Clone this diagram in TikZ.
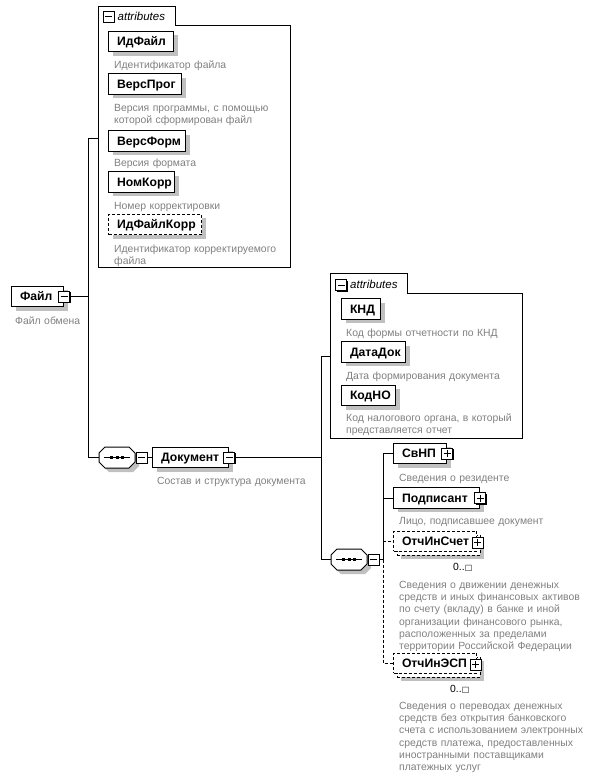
\documentclass[tikz,border=0pt]{standalone}
\usepackage{fontspec}
\setmainfont{Liberation Sans}
\newfontfamily\symf{DejaVu Sans}
\usetikzlibrary{shadows}
\definecolor{desctext}{RGB}{128,128,128}
\definecolor{shadowgray}{RGB}{192,192,192}
\tikzset{
  boxbase/.style={draw, fill=white, line width=1pt, anchor=west, minimum height=20.5pt,
    inner xsep=8.5pt, inner ysep=0pt, align=left, text height=9.5pt, text depth=1pt,
    font=\fontsize{12.2}{14}\selectfont\bfseries},
  withshadow/.style={general shadow={fill=shadowgray, shadow xshift=4pt, shadow yshift=-4pt}},
  elem/.style={boxbase, withshadow},
  optelem/.style={elem, dash pattern=on 3pt off 2pt},
  optfront/.style={boxbase, dash pattern=on 3pt off 2pt},
  optback/.style={draw, fill=white, line width=1pt, inner sep=0pt, withshadow, dash pattern=on 3pt off 2pt},
  desc/.style={anchor=base west, inner sep=0pt, text width=230pt, align=left, text=desctext,
    font=\fontsize{10.4}{12.2}\selectfont},
  attrlabel/.style={anchor=west, inner sep=0pt, font=\fontsize{11.5}{13}\selectfont\itshape},
  occ/.style={anchor=base west, inner sep=0pt, font=\fontsize{10.4}{12}\selectfont},
  sqbase/.style={draw, fill=white, line width=0.8pt, minimum size=11pt, inner sep=0pt,
    general shadow={fill=black, shadow xshift=1pt, shadow yshift=-1pt}},
  sqminus/.style={sqbase, path picture={\draw[line width=0.9pt]
    ([xshift=2pt]path picture bounding box.west) -- ([xshift=-2pt]path picture bounding box.east);}},
  sqplus/.style={sqbase, path picture={\draw[line width=0.9pt]
    ([xshift=2pt]path picture bounding box.west) -- ([xshift=-2pt]path picture bounding box.east)
    ([yshift=-2pt]path picture bounding box.north) -- ([yshift=2pt]path picture bounding box.south);}},
  seqanchor/.style={minimum width=36pt, minimum height=21pt, inner sep=0pt},
  conn/.style={line width=1pt},
  optconn/.style={line width=1pt, dash pattern=on 3pt off 2pt},
  frame/.style={line width=1pt, fill=white},
}
\begin{document}
\begin{tikzpicture}[x=1pt,y=-1pt]
\useasboundingbox[fill=white] (0,0) rectangle (594,779);

% ---------- attributes group 1 ----------
\draw[frame] (98,6) -- (175,6) -- (175,25) -- (290.5,25) -- (290.5,267.5) -- (98,267.5) -- cycle;
\node[sqminus] (att1sq) at (108.5,16.5) {};
\node[attrlabel] (att1lbl) at (117.5,16) {attributes};
\coordinate (att1w) at (98,138);

\node[elem, text width=48pt] (idfajl) at (108,41.5) {ИдФайл};
\node[desc] (idfajld) at (114,68) {Идентификатор файла};
\node[elem, text width=56pt] (versprog) at (108,84) {ВерсПрог};
\node[desc] (versprogd) at (114,111.5) {Версия программы, с помощью\\которой сформирован файл};
\node[elem, text width=60pt] (versform) at (108,141) {ВерсФорм};
\node[desc] (versformd) at (114,166.5) {Версия формата};
\node[elem, text width=49pt] (nomkorr) at (108,182) {НомКорр};
\node[desc] (nomkorrd) at (114,209.5) {Номер корректировки};
\node[optelem, text width=76pt] (idfajlkorr) at (108,224.5) {ИдФайлКорр};
\node[desc] (idfajlkorrd) at (114,252.5) {Идентификатор корректируемого\\файла};

% ---------- root ----------
\node[elem, text width=35pt] (fajl) at (11,296.5) {Файл};
\node[sqminus] (fajlsq) at (fajl.east) {};
\node[desc] (fajld) at (15,324.5) {Файл обмена};

% ---------- sequence 1 ----------
\node[seqanchor] (seq1) at (117,457.5) {};
\fill[shadowgray] ([shift={(4,4)}]seq1.center) ++(-12,-10.5) -- ++(24,0) -- ++(6,6) -- ++(0,9) -- ++(-6,6) -- ++(-24,0) -- ++(-6,-6) -- ++(0,-9) -- cycle;
\draw[frame] (seq1.center) ++(-12,-10.5) -- ++(24,0) -- ++(6,6) -- ++(0,9) -- ++(-6,6) -- ++(-24,0) -- ++(-6,-6) -- ++(0,-9) -- cycle;
\draw[line width=1pt] ([xshift=-13pt]seq1.center) -- ([xshift=13pt]seq1.center);
\fill ([shift={(-7,-1.5)}]seq1.center) rectangle ++(3,3);
\fill ([shift={(-1.5,-1.5)}]seq1.center) rectangle ++(3,3);
\fill ([shift={(4,-1.5)}]seq1.center) rectangle ++(3,3);
\node[sqminus] (seq1sq) at (141.5,457.5) {};

\node[elem, text width=59pt] (dok) at (152,457.5) {Документ};
\node[sqminus] (doksq) at (dok.east) {};
\node[desc] (dokd) at (157,484.5) {Состав и структура документа};

\coordinate (v1top) at (88,138);
\coordinate (v1bot) at (88,457.5);
\draw[conn] (att1w) -- (v1top) -- (v1bot) -- (seq1.west);
\draw[conn] (fajlsq.east) -- (fajlsq.east -| v1top);
\draw[conn] (seq1sq.east) -- (dok.west);

% ---------- attributes group 2 ----------
\draw[frame] (330,273) -- (407,273) -- (407,293) -- (522,293) -- (522,438) -- (330,438) -- cycle;
\node[sqminus] (att2sq) at (341,285) {};
\node[attrlabel] (att2lbl) at (350,284) {attributes};
\coordinate (att2w) at (330,356);

\node[elem, text width=22pt] (knd) at (341,309) {КНД};
\node[desc] (kndd) at (346,336.5) {Код формы отчетности по КНД};
\node[elem, text width=47pt] (datadok) at (341,352) {ДатаДок};
\node[desc] (datadokd) at (346,379.5) {Дата формирования документа};
\node[elem, text width=37pt] (kodno) at (341,395.5) {КодНО};
\node[desc] (kodnod) at (346,421.5) {Код налогового органа, в который\\представляется отчет};

% ---------- sequence 2 ----------
\node[seqanchor] (seq2) at (349,559.5) {};
\fill[shadowgray] ([shift={(4,4)}]seq2.center) ++(-12,-10.5) -- ++(24,0) -- ++(6,6) -- ++(0,9) -- ++(-6,6) -- ++(-24,0) -- ++(-6,-6) -- ++(0,-9) -- cycle;
\draw[frame] (seq2.center) ++(-12,-10.5) -- ++(24,0) -- ++(6,6) -- ++(0,9) -- ++(-6,6) -- ++(-24,0) -- ++(-6,-6) -- ++(0,-9) -- cycle;
\draw[line width=1pt] ([xshift=-13pt]seq2.center) -- ([xshift=13pt]seq2.center);
\fill ([shift={(-7,-1.5)}]seq2.center) rectangle ++(3,3);
\fill ([shift={(-1.5,-1.5)}]seq2.center) rectangle ++(3,3);
\fill ([shift={(4,-1.5)}]seq2.center) rectangle ++(3,3);
\node[sqminus] (seq2sq) at (373.5,559.5) {};

\coordinate (v2top) at (321,356);
\coordinate (v2bot) at (321,559.5);
\draw[conn] (att2w) -- (v2top) -- (v2bot) -- (seq2.west);
\draw[conn] (doksq.east) -- (doksq.east -| v2top);

% ---------- children of sequence 2 ----------
\node[elem, text width=36pt] (svnp) at (393,453.5) {СвНП};
\node[sqplus] (svnpsq) at (svnp.east) {};
\node[desc] (svnpd) at (399,481.5) {Сведения о резиденте};

\node[elem, text width=69pt] (podp) at (393,498) {Подписант};
\node[sqplus] (podpsq) at (podp.east) {};
\node[desc] (podpd) at (399,524.5) {Лицо, подписавшее документ};

\node[optback, minimum width=83pt, minimum height=20pt] (otch1b) at (438.5,545) {};
\node[optfront, text width=66pt, minimum height=20pt] (otch1) at (393,541) {ОтчИнСчет};
\node[sqplus] (otch1sq) at (477.5,542.5) {};
\node[occ] (otch1o) at (453,570.5) {0..{\symf\fontsize{8}{10}\selectfont □}};
\node[desc] (otch1d) at (399,588.5) {Сведения о движении денежных\\средств и иных финансовых активов\\по счету (вкладу) в банке и иной\\организации финансового рынка,\\расположенных за пределами\\территории Российской Федерации};

\node[optback, minimum width=83pt, minimum height=20pt] (otch2b) at (438.5,667) {};
\node[optfront, text width=66pt, minimum height=20pt] (otch2) at (393,663) {ОтчИнЭСП};
\node[sqplus] (otch2sq) at (475.5,664.5) {};
\node[occ] (otch2o) at (450,692.5) {0..{\symf\fontsize{8}{10}\selectfont □}};
\node[desc] (otch2d) at (399,709.5) {Сведения о переводах денежных\\средств без открытия банковского\\счета с использованием электронных\\средств платежа, предоставленных\\иностранными поставщиками\\платежных услуг};

\coordinate (v3top) at (383,453.5);
\coordinate (v3mid) at (383,559.5);
\coordinate (v3bot) at (383,663);
\draw[conn] (seq2sq.east) -- (v3mid) -- (v3top) -- (svnp.west);
\draw[conn] (podp.west -| v3top) -- (podp.west);
\draw[optconn] (otch1.west -| v3top) -- (otch1.west);
\draw[optconn] (v3mid) -- (v3bot) -- (otch2.west);
\end{tikzpicture}
\end{document}
